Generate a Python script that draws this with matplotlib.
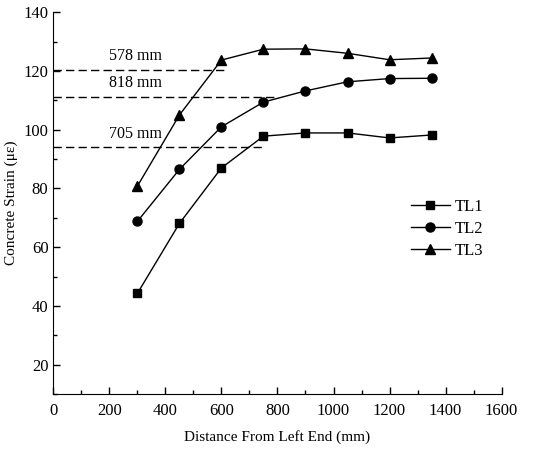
import numpy as np
import matplotlib.pyplot as plt
from matplotlib.ticker import MultipleLocator

plt.rcParams['font.family'] = ['Liberation Serif', 'DejaVu Serif']

# distance along the beam (mm)
dist = [300, 450, 600, 750, 900, 1050, 1200, 1350]

# concrete strain readings (micro strain)
tl1 = [44.3, 68.1, 87.0, 97.8, 98.9, 98.9, 97.2, 98.2]
tl2 = [68.8, 86.5, 101.0, 109.4, 113.2, 116.3, 117.4, 117.5]
tl3 = [80.8, 105.0, 123.7, 127.4, 127.5, 126.0, 123.8, 124.4]

# dashed reference lines: (strain level, end x, label)
ref_levels = [120.4, 111.2, 94.1]
ref_ends = [615, 800, 745]
ref_labels = ['578 mm', '818 mm', '705 mm']

fig = plt.figure(figsize=(5.5, 4.5), dpi=100)
ax = fig.add_axes([0.097, 0.124, 0.815, 0.849])

ax.plot(dist, tl1, color='black', lw=1, marker='s', ms=6, label='TL1')
ax.plot(dist, tl2, color='black', lw=1, marker='o', ms=6.5, label='TL2')
ax.plot(dist, tl3, color='black', lw=1, marker='^', ms=7.5, label='TL3')

for lev, xe, lab in zip(ref_levels, ref_ends, ref_labels):
    ax.plot([0, xe], [lev, lev], color='black', lw=1, dashes=(6, 3), zorder=1)
    ax.text(295, lev + 4.6, lab, ha='center', va='center', fontsize=11.5)

ax.set_xlim(0, 1600)
ax.set_ylim(10, 140)
ax.xaxis.set_major_locator(MultipleLocator(200))
ax.xaxis.set_minor_locator(MultipleLocator(100))
ax.yaxis.set_minor_locator(MultipleLocator(10))
ax.set_yticks([20, 40, 60, 80, 100, 120, 140])
ax.tick_params(which='both', direction='in', width=1, labelsize=12)
ax.tick_params(which='major', length=5)
ax.tick_params(which='minor', length=3)
ax.tick_params(axis='x', which='major', pad=6)
ax.spines['top'].set_visible(False)
ax.spines['right'].set_visible(False)

ax.set_xlabel('Distance From Left End (mm)', fontsize=11, labelpad=8)
ax.set_ylabel('Concrete Strain (με)', fontsize=11, labelpad=4)

ax.legend(loc='center left', bbox_to_anchor=(0.765, 0.432), frameon=False,
          fontsize=12, handlelength=2.3, handletextpad=0.3, labelspacing=0.35)

fig.savefig('out.png', dpi=100)
